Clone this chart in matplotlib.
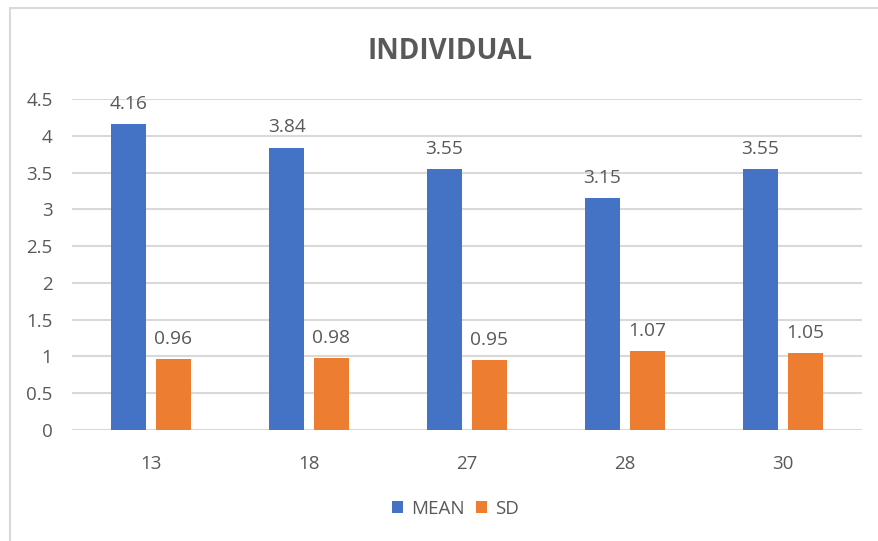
import matplotlib.pyplot as plt
import matplotlib.patches as mpatches
import numpy as np

plt.rcParams['font.family'] = ['Open Sans', 'DejaVu Sans']

categories = ['13', '18', '27', '28', '30']
mean_values = [4.16, 3.84, 3.55, 3.15, 3.55]
sd_values = [0.96, 0.98, 0.95, 1.07, 1.05]
yticks = [0, 0.5, 1, 1.5, 2, 2.5, 3, 3.5, 4, 4.5]

blue = '#4472C4'
orange = '#ED7D31'
text_gray = '#595959'
grid_gray = '#D9D9D9'

fig = plt.figure(figsize=(8.79, 5.41), dpi=100)
ax = fig.add_axes([0.0819, 0.2052, 0.8988, 0.6118])

# chart frame
fig.patches.append(mpatches.Rectangle((10 / 879, -0.2), 1.2, 1.2 - 8 / 541,
                                      transform=fig.transFigure, fill=False,
                                      edgecolor=grid_gray, linewidth=1.5))

x = np.arange(len(categories))
width = 0.22
offset = 0.142

bars_mean = ax.bar(x - offset, mean_values, width, color=blue, label='MEAN', zorder=3)
bars_sd = ax.bar(x + offset, sd_values, width, color=orange, label='SD', zorder=3)

for bars, vals in ((bars_mean, mean_values), (bars_sd, sd_values)):
    for b, v in zip(bars, vals):
        ax.annotate(f'{v:.2f}', xy=(b.get_x() + b.get_width() / 2, v),
                    xytext=(0, 8), textcoords='offset points',
                    ha='center', va='bottom', fontsize=13.8, color=text_gray)

ax.set_xlim(-0.5, len(categories) - 0.5)
ax.set_ylim(0, 4.5)
ax.set_yticks(yticks)
ax.set_yticklabels([f'{t:g}' for t in yticks])
ax.set_xticks(x)
ax.set_xticklabels(categories)
ax.tick_params(axis='both', length=0, labelsize=13.5, labelcolor=text_gray)
ax.tick_params(axis='y', pad=14)
ax.tick_params(axis='x', pad=18)

ax.grid(axis='y', color=grid_gray, linewidth=1.5, zorder=0)
for s in ax.spines.values():
    s.set_visible(False)

fig.text(0.512, 0.905, 'INDIVIDUAL', ha='center', va='center',
         fontsize=20, fontweight='bold', color=text_gray)

fig.legend(handles=[bars_mean, bars_sd], labels=['MEAN', 'SD'],
           loc='center', bbox_to_anchor=(0.518, 0.060), ncol=2, frameon=False,
           fontsize=13.5, labelcolor=text_gray, handlelength=0.6, handleheight=0.6,
           handletextpad=0.4, columnspacing=0.6)

fig.savefig('out.png', dpi=100)
